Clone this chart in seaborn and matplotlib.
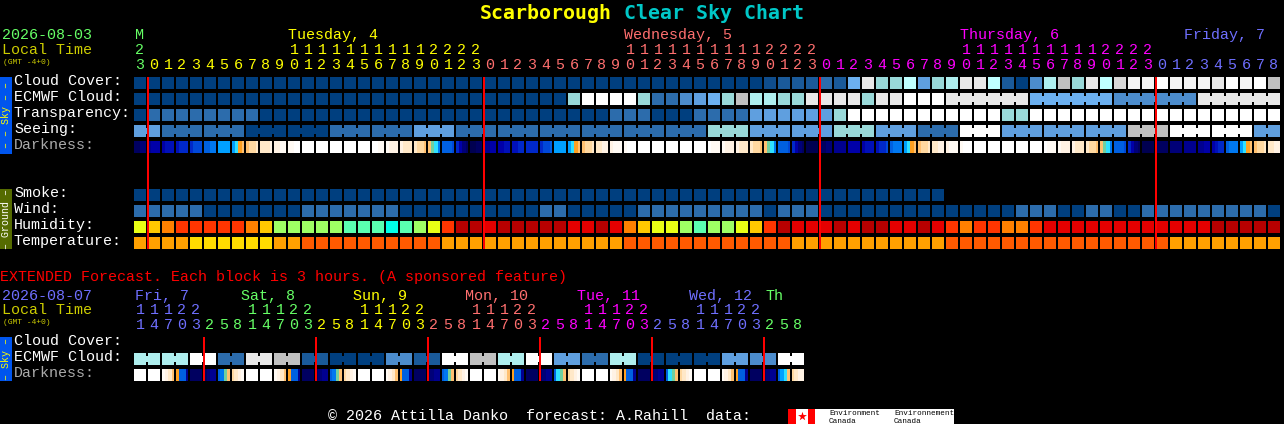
import numpy as np
import matplotlib
matplotlib.use('Agg')
import matplotlib.pyplot as plt
from matplotlib.colors import ListedColormap
import seaborn as sns

# sky colour levels, dark blue = clear ... white = overcast
sky_colors = ['#003F7F', '#0F4D8D', '#1A5A9A', '#2C6CAC', '#4C8CCC', '#5F9FDF', '#6CB0F0', '#99D9D9',
              '#AEEEEE', '#BFFFFF', '#C0C0C0', '#D8D8D8', '#E8E8E8', '#F4F4F4', '#FFFFFF']
humidity_colors = ['#00FFE8', '#5AFFB0', '#9FFF64', '#E9FF15', '#FFC800', '#FF8000', '#FF3500', '#E40000', '#B80000']
temp_colors = ['#FFDC00', '#FFA000', '#FF5A00']
dark_colors = ['#000050', '#000060', '#000078', '#000090', '#0000A8', '#0010B8', '#0028C8', '#0048D8',
               '#0060E0', '#0078F0', '#00A0FF', '#30E0FF', '#70D0A0', '#FFA020', '#FFC070', '#FFD8A0',
               '#FFE8C8', '#FFF2E4', '#FFFAF4', '#FFFFFF']
day_colors = ['#66FF66', '#FFFF00', '#FF6F6F', '#FF00FF', '#6F6FFF']

hours = [23, 0, 1, 2, 3, 4, 5, 6, 7, 8, 9, 10, 11, 12, 13, 14, 15, 16, 17, 18, 19, 20, 21, 22, 23,
         0, 1, 2, 3, 4, 5, 6, 7, 8, 9, 10, 11, 12, 13, 14, 15, 16, 17, 18, 19, 20, 21, 22, 23,
         0, 1, 2, 3, 4, 5, 6, 7, 8, 9, 10, 11, 12, 13, 14, 15, 16, 17, 18, 19, 20, 21, 22, 23,
         0, 1, 2, 3, 4, 5, 6, 7, 8]

cloud = [0] * 45 + [1, 2, 2, 2, 3, 2, 6, 12, 7, 7, 9, 5, 7, 8, 12, 12, 9, 2, 0, 4, 8, 10, 7, 12, 9, 11,
                    13, 13, 14, 13, 13, 13, 12, 14, 13, 14, 10]
ecmwf = [0] * 31 + [7, 14, 14, 14, 14, 7, 3, 3, 4, 5, 6, 7, 10, 8, 8, 7, 7, 12, 12, 12, 12, 7, 12, 12, 14, 14, 14,
                    12, 12, 12, 12, 12, 12, 6, 6, 6, 6, 6, 6, 4, 4, 4, 4, 4, 4, 12, 12, 12, 12, 12, 12]
transparency = [0] + [3] * 8 + [0] * 25 + [3, 3, 3, 0, 0, 0, 3, 3, 3, 3, 5, 5, 5, 5, 5, 5, 7] + [14] * 11 + [7, 7] + [14] * 18
seeing = [5, 5, 3, 3, 3, 3, 3, 3, 0, 0, 0, 0, 0, 0, 3, 3, 3, 3, 3, 3, 5, 5, 5, 3, 3, 3, 3, 3, 3, 3, 3, 3,
          3, 3, 3, 3, 3, 3, 3, 3, 3, 7, 7, 7, 5, 5, 5, 5, 5, 5, 7, 7, 7, 5, 5, 5, 3, 3, 3, 14, 14, 14,
          5, 5, 5, 5, 5, 5, 5, 5, 5, 10, 10, 10, 14, 14, 14, 14, 14, 14, 5, 5]
# bridged runs, as (first column, length)
seeing_runs = [(0, 2)] + [(c, 3) for c in range(2, 80, 3)] + [(80, 2)]
ecmwf_runs = [(58, 6), (64, 6), (70, 6), (76, 6)]

# four samples per block, the row fades inside each block
darkness = [[1, 1, 2, 2], [3, 4, 4, 4], [4, 5, 5, 5], [5, 6, 6, 6], [6, 7, 7, 7], [8, 8, 9, 9], [10, 10, 10, 10],
            [10, 11, 13, 14], [14, 15, 15, 16], [16, 16, 16, 17], [17, 17, 18, 18], [18, 18, 19, 19],
            [19, 19, 19, 19], [19, 19, 19, 19], [19, 19, 19, 19], [19, 19, 19, 19], [19, 19, 19, 19],
            [19, 19, 18, 18], [18, 17, 17, 17], [17, 16, 16, 16], [16, 15, 15, 14], [14, 12, 11, 9],
            [8, 8, 8, 7], [6, 4, 2, 1], [0, 0, 1, 1], [3, 3, 4, 4], [4, 4, 5, 5], [5, 5, 6, 6], [6, 6, 6, 6],
            [6, 7, 7, 8], [10, 10, 10, 10], [10, 11, 13, 14], [14, 15, 15, 16], [16, 16, 17, 17], [17, 18, 18, 18],
            [18, 19, 19, 19], [19, 19, 19, 19], [19, 19, 19, 19], [19, 19, 19, 19], [19, 19, 19, 19],
            [19, 19, 19, 19], [19, 18, 18, 18], [18, 17, 17, 17], [17, 16, 16, 16], [16, 15, 15, 14],
            [14, 12, 11, 9], [8, 8, 8, 7], [6, 4, 2, 1], [0, 0, 0, 0], [1, 1, 2, 2], [3, 3, 3, 3], [4, 4, 4, 4],
            [4, 5, 5, 5], [5, 6, 6, 7], [8, 9, 9, 9], [10, 11, 13, 14], [14, 15, 15, 16], [16, 16, 17, 17],
            [17, 18, 18, 18], [18, 19, 19, 19], [19, 19, 19, 19], [19, 19, 19, 19], [19, 19, 19, 19],
            [19, 19, 19, 19], [19, 19, 19, 19], [19, 18, 18, 18], [18, 17, 17, 17], [17, 16, 16, 16],
            [16, 15, 15, 14], [14, 12, 11, 9], [8, 8, 8, 7], [6, 4, 2, 1], [0, 0, 0, 0], [1, 1, 1, 1], [2, 2, 2, 2],
            [3, 3, 3, 3], [3, 3, 4, 4], [4, 5, 6, 6], [8, 9, 9, 9], [10, 11, 13, 14], [14, 15, 15, 16], [16, 16, 17, 17]]

smoke = [0] * 58 + [np.nan] * 24
wind = [3, 3, 3, 3, 3, 0, 0, 0, 0, 0, 0, 0, 3, 3, 3, 3, 3, 3, 3, 0, 0, 0, 0, 0, 0, 0, 0, 0, 0, 3, 3, 0, 0, 0, 0, 0,
        3, 3, 3, 3, 3, 3, 3, 3, 3, 0, 3, 3, 3, 0, 0, 0, 0, 0, 0, 0, 0, 0, 0, 0, 0, 0, 0, 3, 3, 3, 0, 0, 3, 3, 0, 0,
        3, 3, 3, 3, 3, 3, 3, 3, 3, 0]
humidity = [3, 4, 5, 6, 6, 6, 6, 6, 5, 4, 2, 2, 2, 2, 2, 1, 1, 1, 0, 1, 2, 3, 6, 8, 8, 7, 8, 8, 8, 8, 8, 7, 7, 8, 7,
            5, 4, 3, 3, 2, 1, 2, 2, 3, 4, 6, 8, 7, 7, 7, 8, 7, 8, 8, 7, 7, 8, 7, 6, 5, 6, 6, 5, 5, 6, 7, 7, 7, 7, 7,
            7, 7, 7, 7, 7, 7, 7, 8, 8, 8, 8, 8]
temperature = [1, 1, 1, 1, 0, 0, 0, 0, 0, 0, 1, 1, 2, 2, 2, 2, 2, 2, 2, 2, 2, 2, 1, 1, 1, 1, 1, 1, 1, 1, 1, 1, 1, 1, 1,
               2, 2, 2, 2, 2, 2, 2, 2, 2, 2, 2, 2, 1, 1, 1, 1, 1, 1, 1, 1, 1, 1, 1, 2, 2, 2, 2, 2, 2, 2, 2, 2, 2, 2, 2,
               2, 2, 2, 2, 1, 1, 1, 1, 1, 1, 1, 1]

# extended forecast
ext_hours = [11, 14, 17, 20, 23, 2, 5, 8, 11, 14, 17, 20, 23, 2, 5, 8, 11, 14, 17, 20, 23, 2, 5, 8, 11, 14, 17, 20, 23,
             2, 5, 8, 11, 14, 17, 20, 23, 2, 5, 8, 11, 14, 17, 20, 23, 2, 5, 8]
ext_day = [4] * 5 + [0] * 8 + [1] * 8 + [2] * 8 + [3] * 8 + [4] * 8 + [0] * 3
ext_ecmwf = [8, 8, 8, 8, 14, 14, 3, 3, 12, 12, 10, 10, 2, 2, 0, 0, 0, 0, 4, 4, 2, 2, 14, 14, 10, 10, 8, 8, 14, 14,
             5, 5, 3, 3, 8, 8, 0, 0, 0, 0, 0, 0, 5, 5, 4, 4, 14, 14]
ext_runs = [(c, 2) for c in range(0, 48, 2)]
ext_darkness = [[19, 19, 19, 19], [19, 19, 19, 19], [18, 17, 16, 14], [13, 8, 8, 3], [1, 1, 1, 1], [1, 2, 3, 3],
                [8, 9, 12, 14], [15, 16, 17, 18], [19, 19, 19, 19], [19, 19, 19, 19], [18, 17, 16, 14], [13, 8, 8, 3],
                [1, 1, 1, 1], [1, 2, 3, 3], [8, 9, 12, 14], [15, 16, 17, 18], [19, 19, 19, 19], [19, 19, 19, 19],
                [18, 17, 16, 14], [13, 8, 8, 3], [1, 1, 1, 1], [1, 2, 3, 3], [8, 9, 12, 14], [15, 16, 17, 18],
                [19, 19, 19, 19], [19, 19, 19, 19], [18, 17, 16, 14], [13, 8, 8, 3], [1, 1, 1, 1], [1, 2, 3, 3],
                [8, 11, 12, 14], [15, 16, 17, 18], [19, 19, 19, 19], [19, 19, 19, 19], [18, 17, 16, 14], [13, 8, 8, 3],
                [1, 1, 1, 1], [1, 2, 3, 3], [8, 11, 12, 14], [15, 16, 17, 18], [19, 19, 19, 19], [19, 19, 19, 19],
                [18, 17, 16, 14], [13, 8, 8, 3], [1, 1, 1, 1], [1, 2, 3, 3], [8, 10, 11, 14], [15, 16, 17, 17]]

W, H = 1284, 424
X0, PITCH, BLOCK = 134, 14, 12
sns.set_theme(style='dark', rc={'figure.facecolor': 'black', 'axes.facecolor': 'black'})
plt.rcParams['font.family'] = ['Liberation Mono', 'DejaVu Sans']
fig = plt.figure(figsize=(W / 100, H / 100), dpi=100, facecolor='black')
px = 72 / fig.dpi


def draw_row(values, colors, top, runs=(), per_block=1):
    # heatmap fills the whole band, black 2px lines then cut it into blocks
    ncols = len(values)
    ax = fig.add_axes([(X0 - 1) / W, 1 - (top + BLOCK) / H, ncols * PITCH / W, BLOCK / H])
    arr = np.array(values, dtype=float).reshape(1, -1)
    sns.heatmap(arr, ax=ax, cmap=ListedColormap(colors), vmin=-0.5, vmax=len(colors) - 0.5, cbar=False,
                xticklabels=False, yticklabels=False)
    ax.vlines(np.arange(ncols + 1) * per_block, 0, 1, color='black', lw=2 * px, zorder=3)
    # little bridge between blocks that belong to the same forecast run
    for start, n in runs:
        for c in range(start, start + n - 1):
            ax.hlines(0.5, c + 0.8, c + 1.2, color=colors[int(values[c])], lw=6 * px, zorder=4)


draw_row(cloud, sky_colors, 77)
draw_row(ecmwf, sky_colors, 93, ecmwf_runs)
draw_row(transparency, sky_colors, 109)
draw_row(seeing, sky_colors, 125, seeing_runs)
draw_row(darkness, dark_colors, 141, per_block=4)
draw_row(smoke, sky_colors, 189)
draw_row(wind, sky_colors, 205)
draw_row(humidity, humidity_colors, 221)
draw_row(temperature, temp_colors, 237)
draw_row(ext_ecmwf, sky_colors, 353, ext_runs)
draw_row(ext_darkness, dark_colors, 369, per_block=4)

# overlay in pixel coordinates for the text and the midnight lines
ov = fig.add_axes([0, 0, 1, 1], zorder=5)
ov.set_xlim(0, W)
ov.set_ylim(H, 0)
ov.axis('off')
ov.patch.set_alpha(0)

FS = 15 * px


def label(x, y, s, color='white', size=FS, **kw):
    ov.text(x, y - 1, s, color=color, fontsize=size, va='baseline', **kw)


label(480, 20, 'Scarborough', '#FFFF00', 19.9 * px, fontweight='bold', family='DejaVu Sans Mono')
label(624, 20, 'Clear Sky Chart', '#00C8C8', 19.9 * px, fontweight='bold', family='DejaVu Sans Mono')

label(2, 40, '2026-08-03', day_colors[0])
label(2, 55, 'Local Time', '#CCCC00')
label(3, 65, '(GMT -4+0)', '#CCCC00', 8 * px)
for y, s, col in [(86, 'Cloud Cover:', 'white'), (102, 'ECMWF Cloud:', 'white'), (118, 'Transparency:', 'white'),
                  (134, 'Seeing:', 'white'), (150, 'Darkness:', '#AAAAAA'), (198, 'Smoke:', 'white'),
                  (214, 'Wind:', 'white'), (230, 'Humidity:', 'white'), (246, 'Temperature:', 'white'),
                  (346, 'Cloud Cover:', 'white'), (362, 'ECMWF Cloud:', 'white'), (378, 'Darkness:', '#AAAAAA')]:
    label(14, y, s, col)

# hour columns, a new day starts at hour 0
day = 0
for c, h in enumerate(hours):
    if h == 0 and c > 0:
        day += 1
    xc = X0 + PITCH * c + BLOCK / 2
    col = day_colors[day]
    label(xc, 70, str(h % 10), col, ha='center')
    if h >= 10:
        label(xc, 55, str(h // 10), col, ha='center')
    if h == 0:
        ov.vlines(X0 + PITCH * c, 77, 249, color='red', lw=2 * px)
for x, s, d in [(135, 'M', 0), (288, 'Tuesday, 4', 1), (624, 'Wednesday, 5', 2), (960, 'Thursday, 6', 3), (1184, 'Friday, 7', 4)]:
    label(x, 40, s, day_colors[d])

label(0, 282, 'EXTENDED Forecast. Each block is 3 hours. (A sponsored feature)', 'red')
label(2, 301, '2026-08-07', day_colors[4])
label(2, 315, 'Local Time', '#CCCC00')
label(3, 325, '(GMT -4+0)', '#CCCC00', 8 * px)
for c, h in enumerate(ext_hours):
    xc = X0 + PITCH * c + BLOCK / 2
    col = day_colors[ext_day[c]]
    label(xc, 330, str(h % 10), col, ha='center')
    if h >= 10:
        label(xc, 315, str(h // 10), col, ha='center')
    if h == 2:
        ov.vlines(X0 + PITCH * c, 337, 381, color='red', lw=2 * px)
for x, s, d in [(135, 'Fri, 7', 4), (241, 'Sat, 8', 0), (353, 'Sun, 9', 1), (465, 'Mon, 10', 2), (577, 'Tue, 11', 3),
                (689, 'Wed, 12', 4), (765, 'Th', 0)]:
    label(x, 301, s, day_colors[d])

# side strips
for y0, y1, bg, txt, col in [(77, 154, '#0055EE', '\u2013 \u2013 Sky \u2013 \u2013', '#FFFF00'),
                             (189, 249, '#556B00', '\u2013 Ground \u2013', 'white'),
                             (337, 381, '#0055EE', '\u2013 Sky \u2013', '#FFFF00')]:
    ov.fill_between([0, 12], y0, y1, color=bg, lw=0)
    ov.text(6, (y0 + y1) / 2, txt, color=col, fontsize=10 * px, rotation=90, ha='center', va='center')

# footer and logo
label(328, 421, '\u00a9 2026 Attilla Danko  forecast: A.Rahill  data:', 'white')
ov.fill_between([788, 954], 409, 424, color='white', lw=0)
ov.fill_between([788, 796], 409, 424, color='red', lw=0)
ov.fill_between([808, 815], 409, 424, color='red', lw=0)
ov.scatter([802], [416], marker='*', s=45, color='red', lw=0)
for x, s in [(829, 'Environment'), (894, 'Environnement')]:
    ov.text(x, 415, s, color='black', fontsize=7.6 * px, va='baseline')
    ov.text(x, 423, 'Canada', color='black', fontsize=7.6 * px, va='baseline')

fig.savefig('out.png', dpi=100, facecolor='black')
